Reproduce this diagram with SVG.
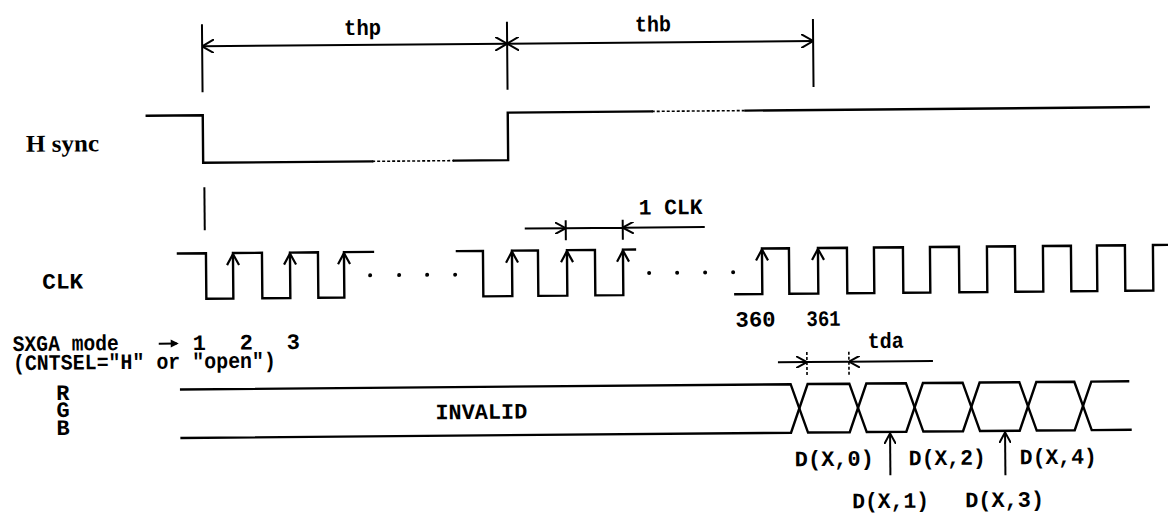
<svg xmlns="http://www.w3.org/2000/svg" width="1168" height="515" viewBox="0 0 1168 515">
<defs>
<marker id="ah" viewBox="0 0 12 14" refX="12" refY="7" markerWidth="12" markerHeight="14" markerUnits="userSpaceOnUse" orient="auto-start-reverse"><path d="M0,0 L12,7 L0,14" fill="none" stroke="#000" stroke-width="2"/></marker>
<marker id="as" viewBox="0 0 11 12" refX="11" refY="6" markerWidth="11" markerHeight="12" markerUnits="userSpaceOnUse" orient="auto-start-reverse"><path d="M0,0 L11,6 L0,12" fill="none" stroke="#000" stroke-width="2"/></marker>
<path id="up" d="M-6,12 L0,1 L6,12" fill="none" stroke="#000" stroke-width="2.2"/>
</defs>
<style>
.w{fill:none;stroke:#000;stroke-width:2.4;stroke-linejoin:miter;stroke-linecap:square}
.l{fill:none;stroke:#000;stroke-width:2}
.d{fill:none;stroke:#000;stroke-width:1.6;stroke-dasharray:3 2}
.t{font-family:"Liberation Mono","DejaVu Sans Mono",monospace;font-weight:bold;font-size:22px;fill:#000}
.s{font-family:"Liberation Serif","DejaVu Serif",serif;font-weight:bold;font-size:24px;fill:#000}
.dot{fill:#000}
</style>
<rect width="1168" height="515" fill="#fff"/>
<g transform="rotate(-0.5 584 257)">
<g id="timing-markers">
<path class="l" d="M204,21 V89 M509,21 V89 M815,21 V89"/>
<path class="l" d="M204,43 H509" marker-start="url(#ah)" marker-end="url(#ah)"/>
<path class="l" d="M509,43 H815" marker-start="url(#ah)" marker-end="url(#ah)"/>
<text class="t" x="346" y="33" font-size="20" textLength="37" lengthAdjust="spacingAndGlyphs">thp</text>
<text class="t" x="637" y="32" font-size="20" textLength="36" lengthAdjust="spacingAndGlyphs">thb</text>
<path class="l" d="M205,184 V227"/>
</g>
<g id="hsync">
<text class="s" x="27" y="147" textLength="73" lengthAdjust="spacingAndGlyphs">H sync</text>
<path class="w" d="M148,112 H204 V159.5 H373"/>
<path class="d" d="M373,159.5 H455"/>
<path class="w" d="M455,159.5 H509 V112 H653"/>
<path class="d" d="M653,112 H747"/>
<path class="w" d="M747,112 H1150"/>
</g>
<g id="clk-period">
<path class="l" d="M566,220 V240 M623,220 V240 M566,228 H623"/>
<path class="l" d="M525,228 H566" marker-end="url(#as)"/>
<path class="l" d="M705,228 H623" marker-end="url(#as)"/>
<text class="t" x="639" y="215" font-size="21" textLength="64" lengthAdjust="spacingAndGlyphs">1 CLK</text>
</g>
<g id="clk">
<text class="t" x="42" y="284" textLength="41" lengthAdjust="spacingAndGlyphs">CLK</text>
<path class="w" d="M178,250 H206 V295.5 H233 V250 H262 V295.5 H290 V250 H318 V295.5 H344 V250 H373"/>
<path class="w" d="M457,250 H483 V295.5 H512 V250 H538 V295.5 H567 V250 H595 V295.5 H623 V250 H635"/>
<path class="w" d="M735,295.5 H762 V250 H789 V295.5 H818 V250 H847 V295.5 H874 V250 H903 V295.5 H930 V250 H959 V295.5 H987 V250 H1015 V295.5 H1043 V250 H1071 V295.5 H1097 V250 H1125 V295.5 H1153 V250 H1168"/>
<use href="#up" x="233" y="250"/>
<use href="#up" x="290" y="250"/>
<use href="#up" x="344" y="250"/>
<use href="#up" x="512" y="250"/>
<use href="#up" x="567" y="250"/>
<use href="#up" x="623" y="250"/>
<use href="#up" x="762" y="250"/>
<use href="#up" x="818" y="250"/>
<circle class="dot" cx="370" cy="273.5" r="2"/>
<circle class="dot" cx="399" cy="273.5" r="2"/>
<circle class="dot" cx="427" cy="273.5" r="2"/>
<circle class="dot" cx="455" cy="273.5" r="2"/>
<circle class="dot" cx="649" cy="273.5" r="2"/>
<circle class="dot" cx="677" cy="273.5" r="2"/>
<circle class="dot" cx="705" cy="273.5" r="2"/>
<circle class="dot" cx="733" cy="273.5" r="2"/>
</g>
<g id="counts">
<text class="t" x="12" y="346" font-size="20" textLength="106" lengthAdjust="spacingAndGlyphs">SXGA mode</text>
<text class="t" x="12" y="365" font-size="20" textLength="263" lengthAdjust="spacingAndGlyphs">(CNTSEL="H" or "open")</text>
<path class="l" d="M158,340 H176"/>
<path d="M170,336 L178,340 L170,344 Z" fill="#000"/>
<text class="t" x="192" y="346.5" font-size="20">1</text>
<text class="t" x="239" y="346.5" font-size="20">2</text>
<text class="t" x="286" y="346.5" font-size="20">3</text>
<text class="t" x="735" y="328" textLength="40" lengthAdjust="spacingAndGlyphs">360</text>
<text class="t" x="806" y="328" textLength="34" lengthAdjust="spacingAndGlyphs">361</text>
</g>
<g id="tda">
<path class="d" d="M806,354 V377 M848,354 V377"/>
<path class="l" d="M806,364 H848"/>
<path class="l" d="M777,364 H806" marker-end="url(#as)"/>
<path class="l" d="M932,364 H848" marker-end="url(#as)"/>
<text class="t" x="867" y="350.5" font-size="21" textLength="36" lengthAdjust="spacingAndGlyphs">tda</text>
</g>
<g id="rgb">
<text class="t" x="55" y="395.5" font-size="23">R</text>
<text class="t" x="55" y="412.5" font-size="23">G</text>
<text class="t" x="55" y="430.5" font-size="23">B</text>
<path class="w" d="M180,386 H789.5 L806.5,434.5 H848.2 L865.2,386 H904.8 L921.8,434.5 H961.5 L978.5,386 H1018.2 L1035.2,434.5 H1073.2 L1090.2,386 H1127"/>
<path class="w" d="M180,434.5 H789.5 L806.5,386 H848.2 L865.2,434.5 H904.8 L921.8,386 H961.5 L978.5,434.5 H1018.2 L1035.2,386 H1073.2 L1090.2,434.5 H1129"/>
<text class="t" x="434" y="418" textLength="92" lengthAdjust="spacingAndGlyphs">INVALID</text>
</g>
<g id="data-labels">
<path class="l" d="M888.5,478 V436" marker-end="url(#as)"/>
<path class="l" d="M1003.5,479 V436" marker-end="url(#as)"/>
<text class="t" x="793" y="468" font-size="23" textLength="79" lengthAdjust="spacingAndGlyphs">D(X,0)</text>
<text class="t" x="907" y="468" font-size="23" textLength="77" lengthAdjust="spacingAndGlyphs">D(X,2)</text>
<text class="t" x="1018" y="468" font-size="23" textLength="77" lengthAdjust="spacingAndGlyphs">D(X,4)</text>
<text class="t" x="850" y="510.5" font-size="22" textLength="77" lengthAdjust="spacingAndGlyphs">D(X,1)</text>
<text class="t" x="963" y="510.5" font-size="22" textLength="79" lengthAdjust="spacingAndGlyphs">D(X,3)</text>
</g>
</g>
</svg>
